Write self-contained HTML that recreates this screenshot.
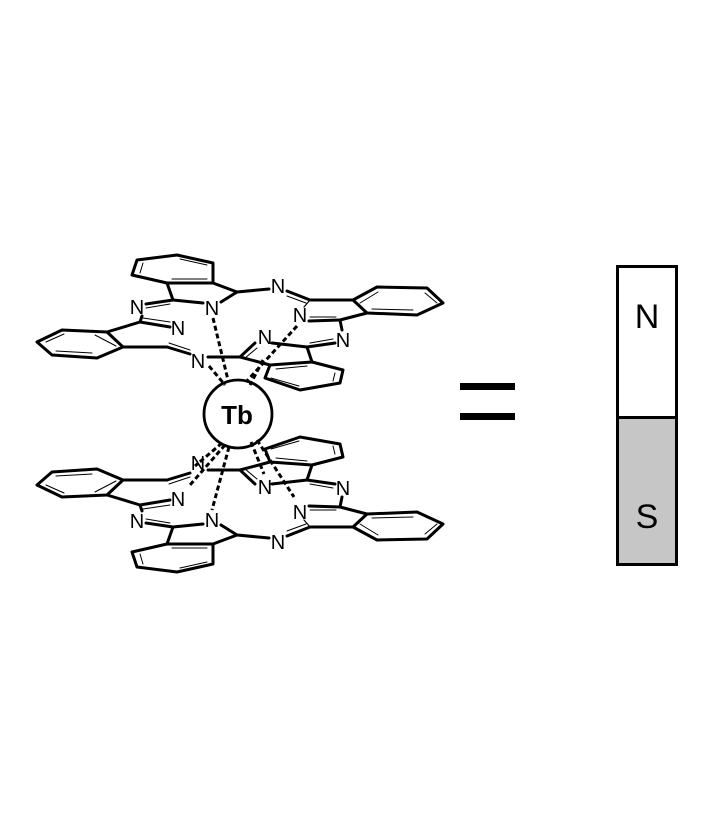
<!DOCTYPE html>
<html><head><style>body{margin:0;background:#fff}svg{display:block}</style></head>
<body>
<svg width="709" height="827" viewBox="0 0 709 827" xmlns="http://www.w3.org/2000/svg">
<defs>
<g id="mol" fill="none" stroke="#000" stroke-width="3" stroke-linejoin="round" stroke-linecap="round">
  <polygon points="132,275 137,260 177,255 213,263 213,283 167,283"/>
  <line x1="140" y1="273" x2="143" y2="263" stroke-width="1"/>
  <line x1="180" y1="259" x2="207" y2="265" stroke-width="1"/>
  <line x1="172" y1="279" x2="207" y2="279" stroke-width="1"/>
  <line x1="167" y1="283" x2="173" y2="300"/>
  <line x1="213" y1="283" x2="237" y2="292"/>
  <line x1="173" y1="300" x2="203" y2="303"/>
  <line x1="221" y1="302" x2="237" y2="292"/>
  <line x1="237" y1="292" x2="269" y2="289"/>
  <line x1="287" y1="291" x2="310" y2="300"/>
  <line x1="287" y1="296" x2="306" y2="303" stroke-width="1"/>
  <line x1="310" y1="300" x2="353" y2="300"/>
  <polygon points="353,300 377,287 427,288 443,303 417,315 367,313"/>
  <line x1="360" y1="303" x2="378" y2="292" stroke-width="1"/>
  <line x1="425" y1="293" x2="437" y2="303" stroke-width="1"/>
  <line x1="372" y1="309" x2="413" y2="310" stroke-width="1"/>
  <line x1="367" y1="313" x2="340" y2="320"/>
  <line x1="310" y1="300" x2="304" y2="307" stroke-width="1.2"/>
  <line x1="309" y1="321" x2="340" y2="320"/>
  <line x1="310" y1="317" x2="336" y2="317" stroke-width="1"/>
  <line x1="340" y1="320" x2="342" y2="330"/>
  <line x1="335" y1="343" x2="307" y2="347"/>
  <line x1="333" y1="339" x2="310" y2="343" stroke-width="1"/>
  <line x1="307" y1="347" x2="312" y2="362"/>
  <polygon points="312,362 343,370 340,383 300,390 265,378 270,365"/>
  <line x1="276" y1="369" x2="307" y2="366" stroke-width="1"/>
  <line x1="271" y1="378" x2="299" y2="386" stroke-width="1"/>
  <line x1="335" y1="373" x2="333" y2="381" stroke-width="1"/>
  <line x1="307" y1="347" x2="272" y2="343"/>
  <line x1="255" y1="343" x2="240" y2="357"/>
  <line x1="257" y1="348" x2="245" y2="358" stroke-width="1"/>
  <line x1="240" y1="357" x2="270" y2="365"/>
  <line x1="240" y1="357" x2="208" y2="357"/>
  <polygon points="37,342 62,330 107,332 123,347 97,358 52,355"/>
  <line x1="46" y1="342" x2="64" y2="334" stroke-width="1"/>
  <line x1="95" y1="335" x2="116" y2="346" stroke-width="1"/>
  <line x1="56" y1="351" x2="92" y2="353" stroke-width="1"/>
  <line x1="107" y1="332" x2="140" y2="322"/>
  <line x1="123" y1="347" x2="167" y2="347"/>
  <line x1="140" y1="322" x2="170" y2="327"/>
  <line x1="143" y1="318" x2="170" y2="322" stroke-width="1"/>
  <line x1="167" y1="347" x2="190" y2="354"/>
  <line x1="169" y1="343" x2="190" y2="350" stroke-width="1"/>
  <line x1="140" y1="322" x2="142" y2="316"/>
  <line x1="146" y1="304" x2="173" y2="300"/>
  <line x1="146" y1="308" x2="170" y2="304" stroke-width="1"/>
</g>
</defs>
<use href="#mol"/>
<use href="#mol" transform="matrix(1,0,0,-1,0,827)"/>
<g font-family="Liberation Sans, sans-serif" font-size="20" text-anchor="middle">
  <text x="212" y="315">N</text><text x="278" y="293">N</text>
  <text x="300" y="322">N</text><text x="343" y="347">N</text>
  <text x="265" y="344">N</text><text x="198" y="368">N</text>
  <text x="178" y="335">N</text><text x="137" y="314">N</text>
  <text x="212" y="527">N</text><text x="278" y="549">N</text>
  <text x="300" y="519">N</text><text x="343" y="495">N</text>
  <text x="265" y="494">N</text><text x="198" y="470">N</text>
  <text x="178" y="506">N</text><text x="137" y="528">N</text>
</g>
<g stroke="#000" stroke-width="3" stroke-dasharray="5,3" fill="none">
  <line x1="213" y1="318" x2="228" y2="380"/>
  <line x1="209" y1="366" x2="225" y2="385"/>
  <line x1="297" y1="326" x2="246" y2="382"/>
  <line x1="263" y1="360" x2="250" y2="385"/>
  <line x1="229" y1="447" x2="212" y2="510"/>
  <line x1="225" y1="445" x2="190" y2="485"/>
  <line x1="222" y1="443" x2="195" y2="466"/>
  <line x1="251" y1="442" x2="264" y2="474"/>
  <line x1="257" y1="440" x2="294" y2="497"/>
</g>
<circle cx="238" cy="414" r="34" fill="none" stroke="#000" stroke-width="2.8"/>
<text x="237" y="424" font-family="Liberation Sans, sans-serif" font-size="26" font-weight="bold" text-anchor="middle">Tb</text>
<rect x="460" y="383" width="55" height="7" fill="#000"/>
<rect x="460" y="413" width="55" height="7" fill="#000"/>
<rect x="617.5" y="266.5" width="59" height="151" fill="#fff" stroke="#000" stroke-width="3"/>
<rect x="617.5" y="417.5" width="59" height="147" fill="#c6c6c6" stroke="#000" stroke-width="3"/>
<g font-family="Liberation Sans, sans-serif" font-size="34" text-anchor="middle">
  <text x="647" y="328">N</text><text x="647" y="528">S</text>
</g>
</svg>
</body></html>
